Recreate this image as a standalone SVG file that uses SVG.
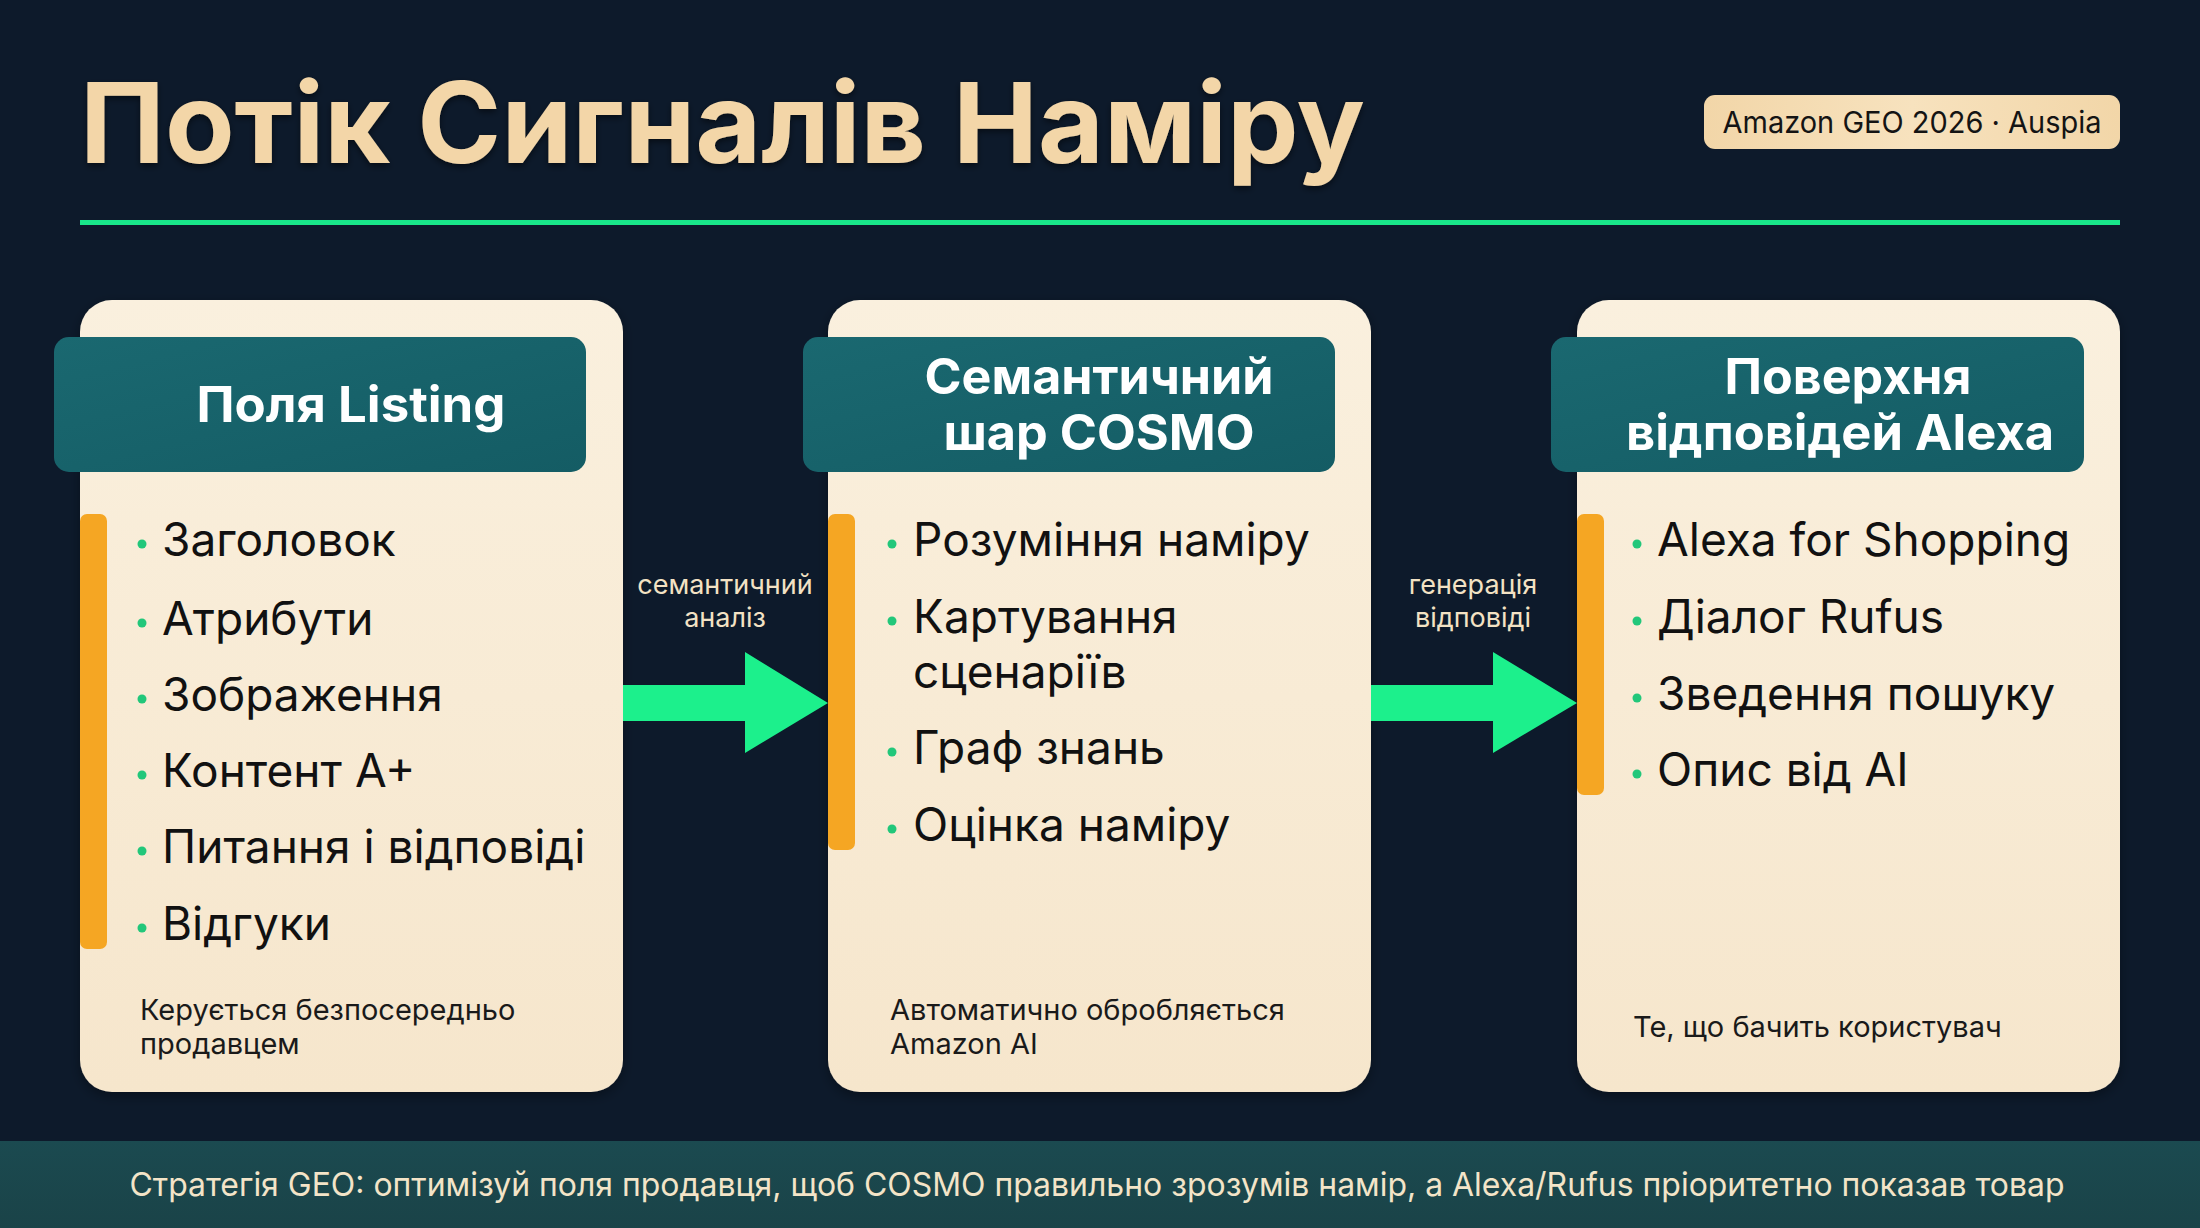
<svg xmlns="http://www.w3.org/2000/svg" width="2200" height="1228" viewBox="0 0 2200 1228">
<defs>
<linearGradient id="cardGrad" x1="0" y1="0" x2="0" y2="1">
<stop offset="0" stop-color="#FAF0DE"/>
<stop offset="1" stop-color="#F6E6CC"/>
</linearGradient>
<linearGradient id="hdrGrad" x1="0" y1="0" x2="1" y2="1">
<stop offset="0" stop-color="#1A6870"/>
<stop offset="1" stop-color="#145C64"/>
</linearGradient>
<linearGradient id="badgeGrad" x1="0" y1="0" x2="1" y2="0">
<stop offset="0" stop-color="#F2D6A8"/>
<stop offset="0.5" stop-color="#F7E2BE"/>
<stop offset="1" stop-color="#F2D6A8"/>
</linearGradient>
<linearGradient id="bandGrad" x1="0" y1="0" x2="0" y2="1">
<stop offset="0" stop-color="#1B4A50"/>
<stop offset="1" stop-color="#1A4348"/>
</linearGradient>
<filter id="shadow" x="-10%" y="-10%" width="120%" height="120%">
<feDropShadow dx="0" dy="4" stdDeviation="6" flood-color="#000" flood-opacity="0.35"/>
</filter>
<filter id="tshadow" x="-5%" y="-20%" width="110%" height="140%">
<feDropShadow dx="0" dy="3" stdDeviation="3" flood-color="#000" flood-opacity="0.5"/>
</filter>
</defs>
<style>
.card{fill:url(#cardGrad);filter:url(#shadow)}
.hdr{fill:url(#hdrGrad)}
.bar{fill:#F5A623}
.dot{fill:#22C77A}
.htxt{font-family:Inter,"Open Sans","Liberation Sans",sans-serif;font-weight:700;font-size:49px;fill:#FFFFFF;text-anchor:middle}
.item{font-family:Inter,"Open Sans","Liberation Sans",sans-serif;font-size:46px;fill:#111111}
.foot{font-family:Inter,"Open Sans","Liberation Sans",sans-serif;font-size:29px;fill:#1A1A1A}
.alab{font-family:Inter,"Open Sans","Liberation Sans",sans-serif;font-size:27px;fill:#F3E2C4;text-anchor:middle}
.arrow{fill:#1CF08C}
</style>
<rect x="0" y="0" width="2200" height="1228" fill="#0D1A2B"/>

<g id="title">
<text x="80" y="163" font-family="Inter,'Open Sans','Liberation Sans',sans-serif" font-weight="700" font-size="112" fill="#F3D6A8" textLength="1285" lengthAdjust="spacingAndGlyphs" filter="url(#tshadow)">Потік Сигналів Наміру</text>
<rect x="80" y="220" width="2040" height="5" fill="#19E68A"/>
</g>

<g id="badge">
<rect x="1704" y="95" width="416" height="54" rx="11" fill="url(#badgeGrad)"/>
<text x="1912" y="133" font-family="Inter,'Open Sans','Liberation Sans',sans-serif" font-size="30" fill="#141414" text-anchor="middle" textLength="379" lengthAdjust="spacingAndGlyphs">Amazon GEO 2026 · Auspia</text>
</g>

<g id="card-listing">
<rect class="card" x="80" y="300" width="543" height="792" rx="32"/>
<rect class="hdr" x="54" y="337" width="532" height="135" rx="15"/>
<text class="htxt" x="351" y="422" textLength="309" lengthAdjust="spacingAndGlyphs">Поля Listing</text>
<rect class="bar" x="80" y="514" width="27" height="435" rx="7"/>
<circle class="dot" cx="142" cy="544" r="4.5"/><text class="item" x="162" y="556">Заголовок</text>
<circle class="dot" cx="142" cy="623" r="4.5"/><text class="item" x="162" y="635">Атрибути</text>
<circle class="dot" cx="142" cy="699" r="4.5"/><text class="item" x="162" y="711">Зображення</text>
<circle class="dot" cx="142" cy="775" r="4.5"/><text class="item" x="162" y="787">Контент А+</text>
<circle class="dot" cx="142" cy="851" r="4.5"/><text class="item" x="162" y="863">Питання і відповіді</text>
<circle class="dot" cx="142" cy="928" r="4.5"/><text class="item" x="162" y="940">Відгуки</text>
<text class="foot" x="140" y="1020">Керується безпосередньо</text>
<text class="foot" x="140" y="1054">продавцем</text>
</g>

<g id="card-cosmo">
<rect class="card" x="828" y="300" width="543" height="792" rx="32"/>
<rect class="hdr" x="803" y="337" width="532" height="135" rx="15"/>
<text class="htxt" x="1099" y="394" textLength="349" lengthAdjust="spacingAndGlyphs">Семантичний</text>
<text class="htxt" x="1099" y="450" textLength="311" lengthAdjust="spacingAndGlyphs">шар COSMO</text>
<rect class="bar" x="828" y="514" width="27" height="336" rx="7"/>
<circle class="dot" cx="892" cy="544" r="4.5"/><text class="item" x="913" y="556">Розуміння наміру</text>
<circle class="dot" cx="892" cy="621" r="4.5"/><text class="item" x="913" y="633">Картування</text>
<text class="item" x="913" y="688">сценаріїв</text>
<circle class="dot" cx="892" cy="752" r="4.5"/><text class="item" x="913" y="764">Граф знань</text>
<circle class="dot" cx="892" cy="829" r="4.5"/><text class="item" x="913" y="841">Оцінка наміру</text>
<text class="foot" x="890" y="1020">Автоматично обробляється</text>
<text class="foot" x="890" y="1054">Amazon AI</text>
</g>

<g id="card-alexa">
<rect class="card" x="1577" y="300" width="543" height="792" rx="32"/>
<rect class="hdr" x="1551" y="337" width="533" height="135" rx="15"/>
<text class="htxt" x="1848" y="394" textLength="247" lengthAdjust="spacingAndGlyphs">Поверхня</text>
<text class="htxt" x="1840" y="450" textLength="428" lengthAdjust="spacingAndGlyphs">відповідей Alexa</text>
<rect class="bar" x="1577" y="514" width="27" height="281" rx="7"/>
<circle class="dot" cx="1637" cy="544" r="4.5"/><text class="item" x="1657" y="556">Alexa for Shopping</text>
<circle class="dot" cx="1637" cy="621" r="4.5"/><text class="item" x="1657" y="633">Діалог Rufus</text>
<circle class="dot" cx="1637" cy="698" r="4.5"/><text class="item" x="1657" y="710">Зведення пошуку</text>
<circle class="dot" cx="1637" cy="774" r="4.5"/><text class="item" x="1657" y="786">Опис від AI</text>
<text class="foot" x="1633" y="1037">Те, що бачить користувач</text>
</g>

<g id="connectors">
<polygon class="arrow" points="623,685 745,685 745,652 828,703 745,753 745,721 623,721"/>
<text class="alab" x="725" y="594">семантичний</text>
<text class="alab" x="725" y="627">аналіз</text>
<polygon class="arrow" points="1371,685 1493,685 1493,652 1577,703 1493,753 1493,721 1371,721"/>
<text class="alab" x="1473" y="594">генерація</text>
<text class="alab" x="1473" y="627">відповіді</text>
</g>

<g id="footer-band">
<rect x="0" y="1141" width="2200" height="87" fill="url(#bandGrad)"/>
<text x="1097" y="1196" font-family="Inter,'Open Sans','Liberation Sans',sans-serif" font-size="33" fill="#F3E4C8" text-anchor="middle" textLength="1935" lengthAdjust="spacingAndGlyphs">Стратегія GEO: оптимізуй поля продавця, щоб COSMO правильно зрозумів намір, а Alexa/Rufus пріоритетно показав товар</text>
</g>
</svg>
